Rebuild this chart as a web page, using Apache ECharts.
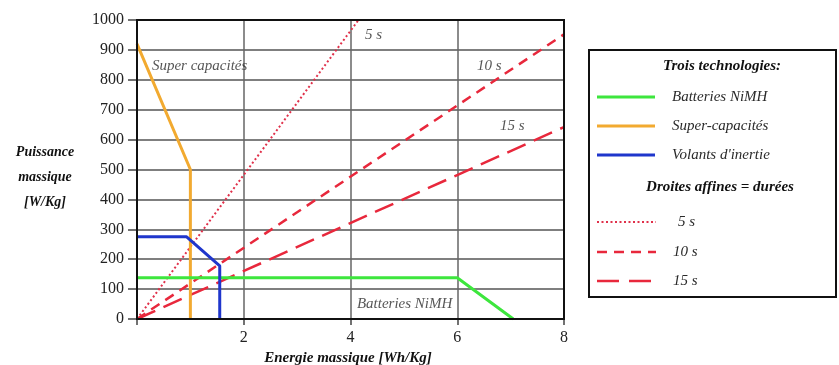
<!DOCTYPE html>
<html>
<head>
<meta charset="utf-8">
<script src="https://cdn.jsdelivr.net/npm/echarts@6/dist/echarts.min.js"></script>
<style>
html,body{margin:0;padding:0;background:#fff;}
#c{width:839px;height:365px;}
</style>
</head>
<body>
<div id="c"></div>
<script>
// ---- data ----
const xTicks = [0, 2, 4, 6, 8];
const yTicks = [0, 100, 200, 300, 400, 500, 600, 700, 800, 900, 1000];
const batteriesNiMH = [[0, 138], [6, 138], [7.05, 0]];
const superCapacites = [[0, 920], [1, 500], [1, 0]];
const volantsInertie = [[0, 275], [0.93, 275], [1.55, 178], [1.55, 0]];
const duree5s = [[0, 0], [4.15, 1000]];
const duree10s = [[0, 0], [8, 952]];
const duree15s = [[0, 0], [8, 642]];
const annotations = [
  {name: 'Super capacités', value: [0.28, 846]},
  {name: '5 s', value: [4.27, 950]},
  {name: '10 s', value: [6.37, 846]},
  {name: '15 s', value: [6.8, 645]},
  {name: 'Batteries NiMH', value: [4.12, 50]}
];
const legendTech = [
  {name: 'Batteries NiMH', color: '#3de63d', dash: null},
  {name: 'Super-capacités', color: '#f2aa30', dash: null},
  {name: "Volants d'inertie", color: '#1f36cc', dash: null}
];
const legendDurees = [
  {name: '5 s', color: '#e0304a', dash: [2, 2.5], w: 2},
  {name: '10 s', color: '#e8283c', dash: [10, 7], w: 2.5},
  {name: '15 s', color: '#e8283c', dash: [22, 10], w: 2.5}
];

const RED = '#e8283c';
const SERIF = "'Liberation Serif', 'DejaVu Serif', serif";

const chart = echarts.init(document.getElementById('c'));

function lineSeries(name, data, color, width, type) {
  return {
    name: name, type: 'line', data: data, showSymbol: false, symbol: 'none',
    lineStyle: {color: color, width: width, type: type || 'solid', cap: 'butt'},
    z: 5, animation: false
  };
}

// legend graphic
const lg = [];
const boxL = 589, boxT = 50, boxR = 836, boxB = 297;
lg.push({type: 'rect', shape: {x: boxL, y: boxT, width: boxR - boxL, height: boxB - boxT},
  style: {fill: '#fff', stroke: '#111', lineWidth: 2}});
lg.push({type: 'text', x: 722, y: 66, style: {text: 'Trois technologies:', font: 'italic bold 15px ' + SERIF,
  fill: '#111', align: 'center', verticalAlign: 'middle'}});
const techY = [97, 126, 155];
legendTech.forEach((it, i) => {
  lg.push({type: 'line', shape: {x1: 597, y1: techY[i], x2: 655, y2: techY[i]},
    style: {stroke: it.color, lineWidth: 3}});
  lg.push({type: 'text', x: 672, y: techY[i], style: {text: it.name, font: 'italic 15px ' + SERIF,
    fill: '#2a2a2a', align: 'left', verticalAlign: 'middle'}});
});
lg.push({type: 'text', x: 720, y: 187, style: {text: 'Droites affines = durées', font: 'italic bold 15px ' + SERIF,
  fill: '#111', align: 'center', verticalAlign: 'middle'}});
const durY = [222, 252, 281];
const durTextX = [678, 673, 673];
legendDurees.forEach((it, i) => {
  lg.push({type: 'line', shape: {x1: 597, y1: durY[i], x2: i === 2 ? 660 : 656, y2: durY[i]},
    style: {stroke: it.color, lineWidth: it.w, lineDash: it.dash}});
  lg.push({type: 'text', x: durTextX[i], y: durY[i], style: {text: it.name, font: 'italic 15px ' + SERIF,
    fill: '#2a2a2a', align: 'left', verticalAlign: 'middle'}});
});
// y axis title
['Puissance', 'massique', '[W/Kg]'].forEach((t, i) => {
  lg.push({type: 'text', x: 45, y: [152, 177, 202][i], style: {text: t, font: 'italic bold 14px ' + SERIF,
    fill: '#111', align: 'center', verticalAlign: 'middle'}});
});

chart.setOption({
  animation: false,
  backgroundColor: '#fff',
  grid: {left: 137, top: 20, width: 427, height: 299, show: true, borderColor: '#111', borderWidth: 2,
    backgroundColor: 'transparent', z: 10, containLabel: false, outerBoundsMode: 'none'},
  xAxis: {
    type: 'value', min: xTicks[0], max: xTicks[xTicks.length - 1], interval: 2,
    name: 'Energie massique [Wh/Kg]', nameLocation: 'middle', nameGap: 28,
    nameTextStyle: {fontFamily: SERIF, fontStyle: 'italic', fontWeight: 'bold', fontSize: 15, color: '#111',
      padding: [0, 0, 0, -5]},
    axisLine: {show: true, onZero: false, lineStyle: {color: '#111', width: 2}},
    axisTick: {show: true, length: 6, lineStyle: {color: '#444', width: 1.5}},
    axisLabel: {fontFamily: SERIF, fontSize: 16, color: '#222', margin: 11,
      formatter: v => (v === 0 ? '' : String(v))},
    splitLine: {show: true, lineStyle: {color: '#666', width: 1.5}}
  },
  yAxis: {
    type: 'value', min: yTicks[0], max: yTicks[yTicks.length - 1], interval: 100,
    axisLine: {show: true, onZero: false, lineStyle: {color: '#111', width: 2}},
    axisTick: {show: true, length: 9, lineStyle: {color: '#444', width: 1.5}},
    axisLabel: {fontFamily: SERIF, fontSize: 16, color: '#222', margin: 13,
      formatter: v => String(v)},
    splitLine: {show: true, lineStyle: {color: '#555', width: 1.5}}
  },
  series: [
    lineSeries('5 s', duree5s, '#e0304a', 2, [2, 2.5]),
    lineSeries('10 s', duree10s, RED, 2.5, [10, 7]),
    lineSeries('15 s', duree15s, RED, 2.5, [20, 9]),
    lineSeries('Super-capacités', superCapacites, '#f2aa30', 3),
    lineSeries('Batteries NiMH', batteriesNiMH, '#3de63d', 3),
    lineSeries("Volants d'inertie", volantsInertie, '#1f36cc', 3),
    {
      type: 'scatter', data: annotations, symbolSize: 0, silent: true, z: 6,
      label: {show: true, position: 'right', distance: 0, formatter: p => p.name,
        fontFamily: SERIF, fontStyle: 'italic', fontSize: 15, color: '#2a2a2a'}
    }
  ],
  graphic: lg
});
</script>
</body>
</html>
